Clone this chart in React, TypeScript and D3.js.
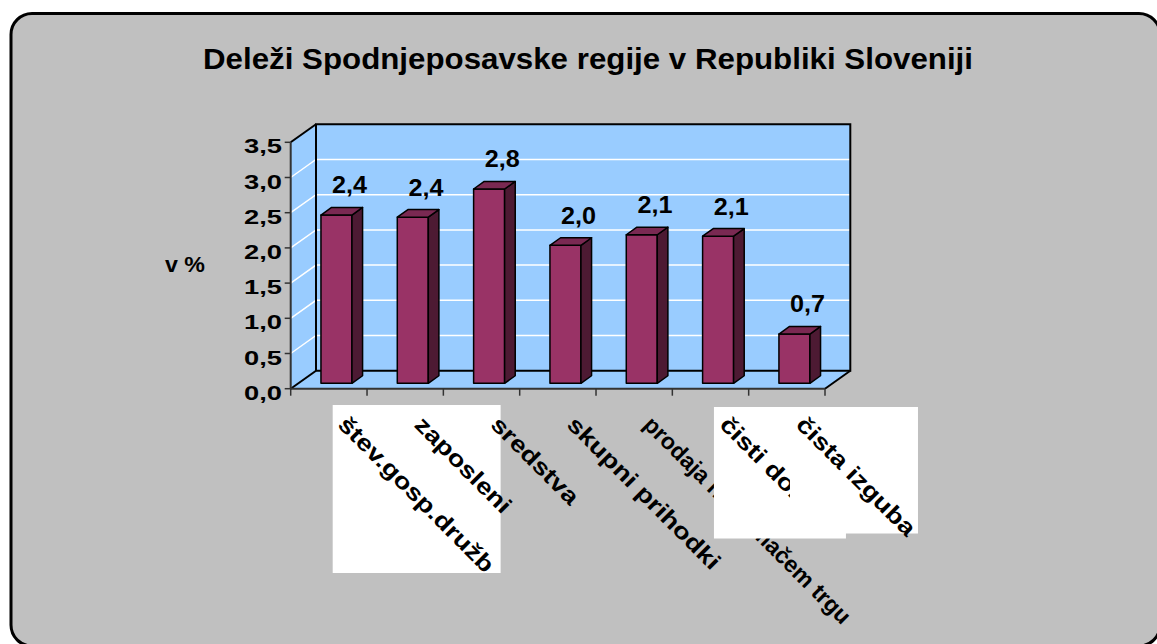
import React, { useLayoutEffect, useRef, useState } from "react";
import * as d3 from "d3";

const categories = [
  "štev.gosp.družb",
  "zaposleni",
  "sredstva",
  "skupni prihodki",
  "prodaja na domačem trgu",
  "čisti dobiček",
  "čista izguba",
];
const values = [2.39, 2.36, 2.76, 1.96, 2.11, 2.09, 0.7];
const yTicks = [0, 0.5, 1, 1.5, 2, 2.5, 3, 3.5];
const title = "Deleži Spodnjeposavske regije v Republiki Sloveniji";
const yTitle = "v %";

const W = 1157;
const H = 644;
const FONT = "'Liberation Sans', Arial, sans-serif";

const fmt = (v: number) => d3.format(".1f")(v).replace(".", ",");

export default function App() {
  const x = d3.scaleBand<string>().domain(categories).range([290.7, 825]).padding(0);
  const y = d3.scaleLinear().domain([0, 3.5]).range([388.7, 142.3]);
  const DX = 25.3;
  const DY = -18;
  const d0 = 0.3;
  const d1 = 0.72;
  const bw = x.bandwidth();
  const barW = bw * 0.406;

  const P = (xf: number, v: number, d: number): [number, number] => [xf + d * DX, y(v) + d * DY];
  const poly = (pts: [number, number][]) => pts.map((p) => p.join(",")).join(" ");

  const x0 = x.range()[0];
  const x1 = x.range()[1];
  const vMax = 3.5;

  const wallFill = "#99CCFF";
  const axisCol = "#333";

  const labelRefs = useRef<(SVGTextElement | null)[]>([]);
  const [scales, setScales] = useState<number[]>(categories.map(() => 1.2));
  useLayoutEffect(() => {
    const s = categories.map((_, i) => {
      const el = labelRefs.current[i];
      if (!el) return 1.2;
      const len = el.getComputedTextLength();
      return Math.min(1.2, 282 / len);
    });
    setScales(s);
  }, []);

  // white boxes (rendering artifacts in reference) derived from band positions
  const box1 = { x: (x(categories[0]) as number) + 42, y: 405, w: bw * 2.2, h: 168 };
  const box6 = { x: (x(categories[5]) as number) + 41.6, y: 407, w: 132, h: 131.5 };
  const box7 = { x: (x(categories[6]) as number) + 41.3, y: 407, w: 128, h: 126.5 };

  const catLabel = (c: string, i: number, clip?: string) => {
    const cx = (x(c) as number) + bw / 2 + 8;
    const cy = 426;
    return (
      <g key={"cl" + i} clipPath={clip}>
        <text
          ref={(el) => {
            labelRefs.current[i] = el;
          }}
          transform={`translate(${cx},${cy}) rotate(45) scale(${scales[i]},1)`}
          fontFamily={FONT}
          fontWeight="bold"
          fontSize={23}
          fill="#000"
        >
          {c}
        </text>
      </g>
    );
  };

  return (
    <svg
      width={W}
      height={H}
      style={{ position: "absolute", left: 0, top: 0, background: "#fff" }}
    >
      <defs>
        <clipPath id="clip6">
          <rect x={box6.x - 20} y={box6.y - 20} width={box7.x - box6.x + 20} height={box6.h + 20} />
        </clipPath>
      </defs>
      <rect x={11} y={13.5} width={1149} height={632.5} rx={21} ry={21} fill="#C0C0C0" stroke="#000" strokeWidth={3} />

      <text x={203} y={69} fontFamily={FONT} fontWeight="bold" fontSize={29} textLength={770} lengthAdjust="spacingAndGlyphs">
        {title}
      </text>

      {/* side wall */}
      <polygon points={poly([P(x0, 0, 0), P(x0, vMax, 0), P(x0, vMax, 1), P(x0, 0, 1)])} fill={wallFill} />
      {/* back wall */}
      <polygon points={poly([P(x0, 0, 1), P(x0, vMax, 1), P(x1, vMax, 1), P(x1, 0, 1)])} fill={wallFill} />
      {/* floor */}
      <polygon points={poly([P(x0, 0, 0), P(x1, 0, 0), P(x1, 0, 1), P(x0, 0, 1)])} fill={wallFill} />

      {/* gridlines */}
      {yTicks
        .filter((t) => t > 0 && t < vMax)
        .map((t, i) => (
          <polyline key={"g" + i} points={poly([P(x0, t, 0), P(x0, t, 1), P(x1, t, 1)])} fill="none" stroke="#fff" strokeWidth={1.5} />
        ))}

      {/* wall borders */}
      <polygon points={poly([P(x0, 0, 1), P(x0, vMax, 1), P(x1, vMax, 1), P(x1, 0, 1)])} fill="none" stroke="#000" strokeWidth={2} />
      <line x1={P(x0, vMax, 0)[0]} y1={P(x0, vMax, 0)[1]} x2={P(x0, vMax, 1)[0]} y2={P(x0, vMax, 1)[1]} stroke="#000" strokeWidth={2} />
      <line x1={P(x0, 0, 0)[0]} y1={P(x0, 0, 0)[1]} x2={P(x0, 0, 1)[0]} y2={P(x0, 0, 1)[1]} stroke="#000" strokeWidth={2} />
      <line x1={P(x1, 0, 0)[0]} y1={P(x1, 0, 0)[1]} x2={P(x1, 0, 1)[0]} y2={P(x1, 0, 1)[1]} stroke="#000" strokeWidth={2} />

      {/* bars */}
      {categories.map((c, i) => {
        const v = values[i];
        const xl = (x(c) as number) + (bw - barW) / 2;
        const xr = xl + barW;
        return (
          <g key={"b" + i} stroke="#000" strokeWidth={1.5} strokeLinejoin="round">
            <polygon points={poly([P(xl, 0, d0), P(xl, v, d0), P(xr, v, d0), P(xr, 0, d0)])} fill="#993366" />
            <polygon points={poly([P(xr, 0, d0), P(xr, v, d0), P(xr, v, d1), P(xr, 0, d1)])} fill="#4D1A33" />
            <polygon points={poly([P(xl, v, d0), P(xr, v, d0), P(xr, v, d1), P(xl, v, d1)])} fill="#7A2952" />
          </g>
        );
      })}

      {/* data labels */}
      {categories.map((c, i) => {
        const v = values[i];
        const [lx, ly] = P((x(c) as number) + bw / 2, v, d1);
        return (
          <text
            key={"dl" + i}
            x={lx - 15}
            y={ly - 14}
            fontFamily={FONT}
            fontWeight="bold"
            fontSize={23}
            textLength={35}
            lengthAdjust="spacingAndGlyphs"
          >
            {fmt(v)}
          </text>
        );
      })}

      {/* axes */}
      <line x1={x0} y1={y(0)} x2={x0} y2={y(vMax)} stroke={axisCol} strokeWidth={2} />
      <line x1={x0} y1={y(0)} x2={x1} y2={y(0)} stroke={axisCol} strokeWidth={2} />
      {yTicks.map((t, i) => (
        <g key={"yt" + i}>
          <line x1={x0 - 6} y1={y(t)} x2={x0} y2={y(t)} stroke={axisCol} strokeWidth={1.5} />
          <text
            x={244}
            y={y(t) + 11}
            fontFamily={FONT}
            fontWeight="bold"
            fontSize={21}
            textLength={38}
            lengthAdjust="spacingAndGlyphs"
          >
            {fmt(t)}
          </text>
        </g>
      ))}
      {categories.map((c, i) => (
        <line key={"xt" + i} x1={x(c)} y1={y(0)} x2={x(c)} y2={y(0) + 7} stroke={axisCol} strokeWidth={1.5} />
      ))}
      <line x1={x1} y1={y(0)} x2={x1} y2={y(0) + 7} stroke={axisCol} strokeWidth={1.5} />

      <text x={165} y={272} fontFamily={FONT} fontWeight="bold" fontSize={22} textLength={40} lengthAdjust="spacingAndGlyphs">
        {yTitle}
      </text>

      {/* category labels with white boxes */}
      <rect x={box1.x} y={box1.y} width={box1.w} height={box1.h} fill="#fff" />
      {categories.slice(0, 5).map((c, i) => catLabel(c, i))}
      <rect x={box6.x} y={box6.y} width={box6.w} height={box6.h} fill="#fff" />
      {catLabel(categories[5], 5, "url(#clip6)")}
      <rect x={box7.x} y={box7.y} width={box7.w} height={box7.h} fill="#fff" />
      {catLabel(categories[6], 6)}
    </svg>
  );
}
